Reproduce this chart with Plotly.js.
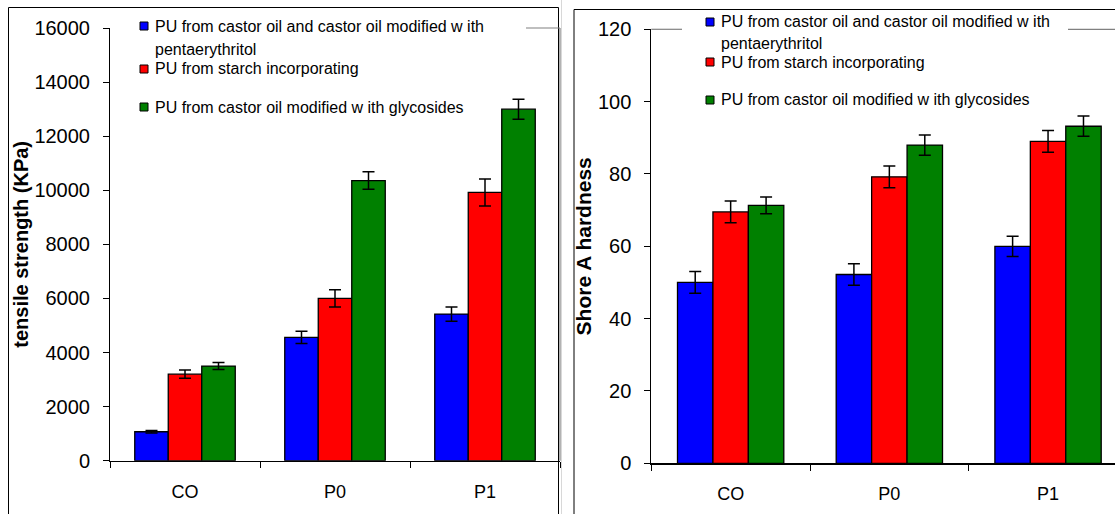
<!DOCTYPE html>
<html>
<head>
<meta charset="utf-8">
<script src="https://cdn.plot.ly/plotly-3.0.1.min.js"></script>
<style>html,body{margin:0;padding:0;background:#fff}#chart{width:1115px;height:514px}</style>
</head>
<body>
<div id="chart"></div>
<script>
// ---- data ----
const categories = ['CO', 'P0', 'P1'];
const seriesNames = [
  'PU from castor oil and castor oil modified w ith<br>pentaerythritol',
  'PU from starch incorporating',
  'PU from castor oil modified w ith glycosides'
];
const seriesColors = ['#0000FF', '#FF0000', '#008000'];

// tensile strength (KPa)
const tensileCastorPenta = [1070, 4560, 5420];
const tensileCastorPentaErr = [50, 230, 260];
const tensileStarch = [3200, 6000, 9920];
const tensileStarchErr = [150, 320, 500];
const tensileGlycosides = [3500, 10360, 13000];
const tensileGlycosidesErr = [130, 320, 370];

// Shore A hardness
const hardCastorPenta = [50, 52.2, 60];
const hardCastorPentaErr = [3, 3, 2.8];
const hardStarch = [69.5, 79.2, 89];
const hardStarchErr = [3, 3, 3];
const hardGlycosides = [71.3, 88, 93.2];
const hardGlycosidesErr = [2.3, 2.8, 2.8];

// ---- layout helpers ----
const W = 1115, H = 514;
const px = x => x / W;
const py = y => 1 - y / H;
const FONT = 'Liberation Sans, Arial, sans-serif';

const leftVals = [tensileCastorPenta, tensileStarch, tensileGlycosides];
const leftErr = [tensileCastorPentaErr, tensileStarchErr, tensileGlycosidesErr];
const rightVals = [hardCastorPenta, hardStarch, hardGlycosides];
const rightErr = [hardCastorPentaErr, hardStarchErr, hardGlycosidesErr];

const traces = [];
for (let i = 0; i < 3; i++) {
  traces.push({
    type: 'bar', x: categories, y: leftVals[i], name: seriesNames[i],
    xaxis: 'x', yaxis: 'y', showlegend: false,
    marker: {color: seriesColors[i], line: {color: '#000', width: 1.3}},
    error_y: {type: 'data', array: leftErr[i], visible: true, color: '#000', thickness: 1.5, width: 6}
  });
}
for (let i = 0; i < 3; i++) {
  traces.push({
    type: 'bar', x: categories, y: rightVals[i], name: seriesNames[i],
    xaxis: 'x2', yaxis: 'y2', showlegend: false,
    marker: {color: seriesColors[i], line: {color: '#000', width: 1.3}},
    error_y: {type: 'data', array: rightErr[i], visible: true, color: '#000', thickness: 1.5, width: 6}
  });
}

const shapes = [];
const annotations = [];

// outer frames
shapes.push({type: 'rect', xref: 'paper', yref: 'paper', x0: px(8.5), x1: px(558.5), y0: py(520), y1: py(7.5), line: {color: '#000', width: 1}, layer: 'below'});
shapes.push({type: 'rect', xref: 'paper', yref: 'paper', x0: px(574), x1: px(1125), y0: py(520), y1: py(9.5), line: {color: '#000', width: 1}, layer: 'below'});
// light shadow line
shapes.push({type: 'line', xref: 'paper', yref: 'paper', x0: px(561.5), x1: px(561.5), y0: py(514), y1: py(0), line: {color: '#d8d8d8', width: 1}});
// plot area borders (gray) - left chart
shapes.push({type: 'line', xref: 'paper', yref: 'paper', x0: px(526), x1: px(560), y0: py(28), y1: py(28), line: {color: '#808080', width: 1.2}});
shapes.push({type: 'line', xref: 'paper', yref: 'paper', x0: px(560), x1: px(560), y0: py(28), y1: py(460.7), line: {color: '#808080', width: 1.2}});
// right chart
shapes.push({type: 'line', xref: 'paper', yref: 'paper', x0: px(651.3), x1: px(682), y0: py(29.3), y1: py(29.3), line: {color: '#808080', width: 1.2}});
shapes.push({type: 'line', xref: 'paper', yref: 'paper', x0: px(1068), x1: px(1115), y0: py(29.3), y1: py(29.3), line: {color: '#808080', width: 1.2}});

// manual legends
function legend(swX, txtX, rows, contY) {
  for (let i = 0; i < 3; i++) {
    const yc = rows[i];
    shapes.push({type: 'rect', xref: 'paper', yref: 'paper', x0: px(swX - 4), x1: px(swX + 4), y0: py(yc + 4), y1: py(yc - 4),
      fillcolor: seriesColors[i], line: {color: '#000', width: 1}});
    const lines = seriesNames[i].split('<br>');
    annotations.push({xref: 'paper', yref: 'paper', x: px(txtX), y: py(yc), xanchor: 'left', yanchor: 'middle',
      text: lines[0], showarrow: false, align: 'left', font: {family: FONT, size: 16, color: '#000'}});
    if (lines.length > 1) {
      annotations.push({xref: 'paper', yref: 'paper', x: px(txtX), y: py(contY), xanchor: 'left', yanchor: 'middle',
        text: lines[1], showarrow: false, align: 'left', font: {family: FONT, size: 16, color: '#000'}});
    }
  }
}
legend(144, 153, [26, 69, 107], 49);
legend(710, 719, [22, 62, 100], 43);

const axisFont = {family: FONT, size: 20, color: '#000'};
const layout = {
  width: W, height: H,
  margin: {l: 0, r: 0, t: 0, b: 0},
  paper_bgcolor: '#fff', plot_bgcolor: '#fff',
  barmode: 'group', bargap: 0.33, bargroupgap: 0,
  font: {family: FONT, color: '#000'},
  xaxis: {domain: [px(110), px(560)], range: [-0.5, 2.5], type: 'category', anchor: 'y',
    showline: true, linecolor: '#000', linewidth: 1.5, ticks: 'outside', tickson: 'boundaries', ticklen: 6, tickcolor: '#000',
    tickfont: {family: FONT, size: 18, color: '#000'}, ticklabelstandoff: 14, showgrid: false, zeroline: false, fixedrange: true},
  yaxis: {domain: [py(460.7), py(28)], range: [0, 16000], dtick: 2000, tickformat: 'd', anchor: 'x',
    showline: true, linecolor: '#000', linewidth: 1, ticks: 'outside', ticklen: 6, tickcolor: '#000',
    tickfont: axisFont, ticklabelstandoff: 9, showgrid: false, zeroline: false, fixedrange: true,
    title: {text: '<b>tensile strength (KPa)</b>', font: {family: FONT, size: 20, color: '#000'}, standoff: 0}},
  xaxis2: {domain: [px(651.3), 1], range: [-0.5, -0.5 + 463.7 / 158.7], type: 'category', anchor: 'y2',
    showline: true, linecolor: '#000', linewidth: 1.5, ticks: 'outside', tickson: 'boundaries', ticklen: 6, tickcolor: '#000',
    tickfont: {family: FONT, size: 18, color: '#000'}, ticklabelstandoff: 14, showgrid: false, zeroline: false, fixedrange: true},
  yaxis2: {domain: [py(463.3), py(29.3)], range: [0, 120], dtick: 20, tickformat: 'd', anchor: 'x2',
    showline: true, linecolor: '#000', linewidth: 1, ticks: 'outside', ticklen: 6, tickcolor: '#000',
    tickfont: axisFont, ticklabelstandoff: 9, showgrid: false, zeroline: false, fixedrange: true,
    title: {text: '<b>Shore A hardness</b>', font: {family: FONT, size: 21, color: '#000'}, standoff: 0}},
  shapes: shapes,
  annotations: annotations
};

Plotly.newPlot('chart', traces, layout, {displayModeBar: false, staticPlot: true});
</script>
</body>
</html>
